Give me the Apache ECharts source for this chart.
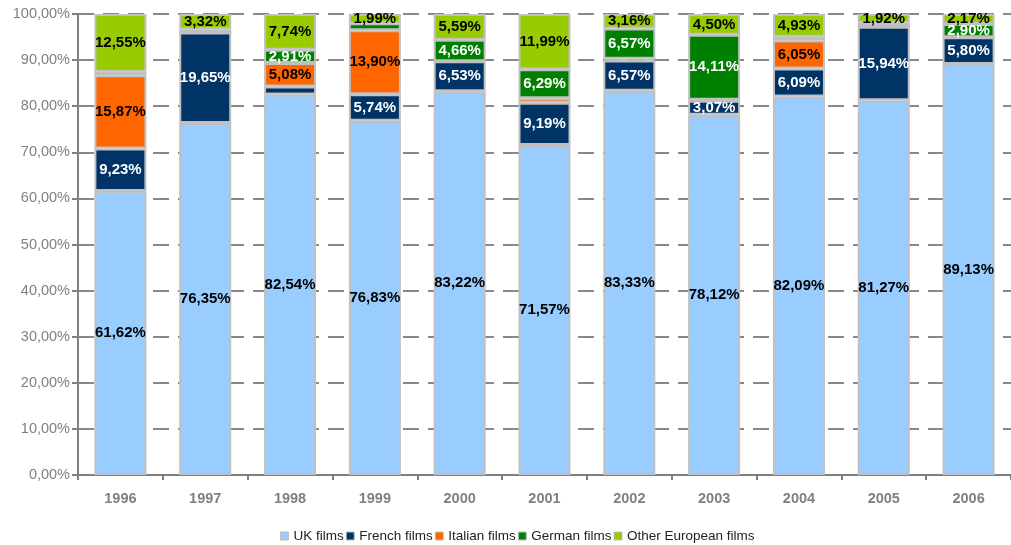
<!DOCTYPE html>
<html><head><meta charset="utf-8">
<script src="https://cdn.jsdelivr.net/npm/echarts@6/dist/echarts.min.js"></script>
<style>html,body{margin:0;padding:0;background:#fff}#c{width:1011px;height:545px}</style>
</head><body><div id="c"></div>
<script>
const years = ['1996','1997','1998','1999','2000','2001','2002','2003','2004','2005','2006'];
const ukFilms      = [61.62, 76.35, 82.54, 76.83, 83.22, 71.57, 83.33, 78.12, 82.09, 81.27, 89.13];
const frenchFilms  = [9.23, 19.65, 1.73, 5.74, 6.53, 9.19, 6.57, 3.07, 6.09, 15.94, 5.80];
const italianFilms = [15.87, 0, 5.08, 13.90, 0, 0.96, 0.37, 0.20, 6.05, 0, 0];
const germanFilms  = [0.73, 0.68, 2.91, 1.54, 4.66, 6.29, 6.57, 14.11, 0.84, 0.87, 2.90];
const otherFilms   = [12.55, 3.32, 7.74, 1.99, 5.59, 11.99, 3.16, 4.50, 4.93, 1.92, 2.17];
const yTicks = [0,10,20,30,40,50,60,70,80,90,100];

const FONT = '"Liberation Sans", Arial, sans-serif';
const fmt = v => v.toFixed(2).replace('.', ',') + '%';
function mk(name, data, color, labelColor) {
  return {
    name, type: 'bar', stack: 'all', data, barWidth: 52,
    itemStyle: { color, borderColor: '#c0c0c0', borderWidth: 2 },
    label: {
      show: true, position: 'inside', color: labelColor,
      fontFamily: FONT, fontWeight: 'bold', fontSize: 15,
      formatter: p => (p.value >= 1.9 ? fmt(p.value) : '')
    },
    emphasis: { disabled: true }
  };
}
const chart = echarts.init(document.getElementById('c'), null, { renderer: 'canvas' });
chart.setOption({
  animation: false,
  backgroundColor: '#fff',
  grid: { left: 78, top: 14, width: 938, height: 461, containLabel: false },
  legend: {
    left: 275, top: 524, itemWidth: 8, itemHeight: 8, itemGap: 2,
    icon: 'rect',
    itemStyle: { borderWidth: 1, borderColor: '#c0c0c0' },
    textStyle: { fontFamily: FONT, fontSize: 13.5, color: '#222' },
    data: ['UK films','French films','Italian films','German films','Other European films']
  },
  xAxis: {
    type: 'category', data: years,
    axisLine: { lineStyle: { color: '#808080', width: 2 } },
    axisTick: { show: true, length: 5, lineStyle: { color: '#808080', width: 2 } },
    axisLabel: { fontFamily: FONT, fontWeight: 'bold', fontSize: 14.5, color: '#808080', margin: 16 }
  },
  yAxis: {
    type: 'value', min: yTicks[0], max: yTicks[yTicks.length-1], interval: 10,
    axisLine: { show: true, lineStyle: { color: '#808080', width: 2 } },
    axisTick: { show: true, length: 6, lineStyle: { color: '#808080', width: 2 } },
    axisLabel: { fontFamily: FONT, fontSize: 14.5, color: '#808080', margin: 8, formatter: v => fmt(v) },
    splitLine: { show: true, lineStyle: { color: '#888', width: 2, type: [16, 9] } }
  },
  series: [
    mk('UK films', ukFilms, '#99ccff', '#000'),
    mk('French films', frenchFilms, '#003366', '#fff'),
    mk('Italian films', italianFilms, '#ff6600', '#000'),
    mk('German films', germanFilms, '#008000', '#fff'),
    mk('Other European films', otherFilms, '#99cc00', '#000')
  ]
});
</script></body></html>
